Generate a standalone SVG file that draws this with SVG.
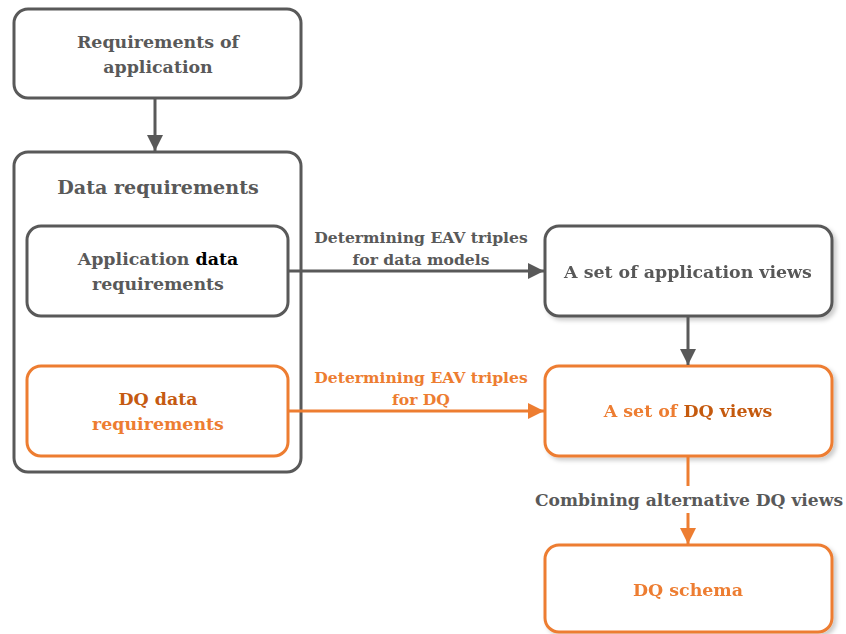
<svg xmlns="http://www.w3.org/2000/svg" width="846" height="634" viewBox="0 0 846 634">
<style>
text{font-family:"DejaVu Serif","Liberation Serif",serif;font-weight:bold;font-size:17.4px;text-anchor:middle;}
.g{fill:#595959}
.o{fill:#ED7D31}
.do{fill:#C55A11}
.k{fill:#000}
.bg{fill:#fff;stroke:#595959;stroke-width:3}
.bo{fill:#fff;stroke:#ED7D31;stroke-width:3}
.lg{stroke:#595959;stroke-width:3;fill:none}
.lo{stroke:#ED7D31;stroke-width:3;fill:none}
.lab{font-size:15.6px}
</style>
<defs>
<marker id="ag" viewBox="0 0 10 10" refX="10" refY="5" markerWidth="5.5" markerHeight="5.5" orient="auto" markerUnits="strokeWidth"><path d="M0,0L10,5L0,10z" fill="#595959"/></marker>
<marker id="ao" viewBox="0 0 10 10" refX="10" refY="5" markerWidth="5.5" markerHeight="5.5" orient="auto" markerUnits="strokeWidth"><path d="M0,0L10,5L0,10z" fill="#ED7D31"/></marker>
<filter id="sh" x="-5%" y="-5%" width="115%" height="120%"><feDropShadow dx="3" dy="3" stdDeviation="2" flood-color="#000" flood-opacity="0.2"/></filter>
</defs>
<g id="n1"><rect class="bg" x="14" y="9" width="287" height="89" rx="14"/><text class="g" x="158" y="48">Requirements of</text><text class="g" x="158" y="73">application</text></g>
<g id="n2"><rect class="bg" x="14" y="152" width="287" height="320" rx="14"/><text class="g" x="158" y="194" style="font-size:19.1px">Data requirements</text></g>
<g id="n3"><rect class="bg" x="27" y="226" width="261" height="90" rx="14"/><text class="g" x="158" y="265">Application <tspan class="k">data</tspan></text><text class="g" x="158" y="290">requirements</text></g>
<g id="n4"><rect class="bo" x="27" y="366" width="261" height="90" rx="14"/><text class="do" x="158" y="405">DQ data</text><text class="o" x="158" y="430">requirements</text></g>
<g id="n5" filter="url(#sh)"><rect class="bg" x="545" y="226" width="287" height="90" rx="14"/><text class="g" x="688" y="278">A set of application views</text></g>
<g id="n6" filter="url(#sh)"><rect class="bo" x="545" y="366" width="287" height="90" rx="14"/><text class="o" x="688" y="417">A set of <tspan class="do">DQ views</tspan></text></g>
<g id="n7" filter="url(#sh)"><rect class="bo" x="545" y="545" width="287" height="87" rx="14"/><text class="o" x="688" y="596">DQ schema</text></g>
<g id="connectors">
<line class="lg" x1="155" y1="98" x2="155" y2="151" marker-end="url(#ag)"/>
<line class="lg" x1="288" y1="271" x2="544" y2="271" marker-end="url(#ag)"/>
<text class="g lab" x="421" y="243">Determining EAV triples</text>
<text class="g lab" x="421" y="265">for data models</text>
<line class="lg" x1="688" y1="316" x2="688" y2="365" marker-end="url(#ag)"/>
<line class="lo" x1="288" y1="411" x2="544" y2="411" marker-end="url(#ao)"/>
<text class="o lab" x="421" y="383">Determining EAV triples</text>
<text class="o lab" x="421" y="405">for DQ</text>
<line class="lo" x1="688" y1="456" x2="688" y2="486"/>
<line class="lo" x1="688" y1="513" x2="688" y2="544" marker-end="url(#ao)"/>
<text class="g" x="689" y="506" style="font-size:17.1px">Combining alternative DQ views</text>
</g>
</svg>
